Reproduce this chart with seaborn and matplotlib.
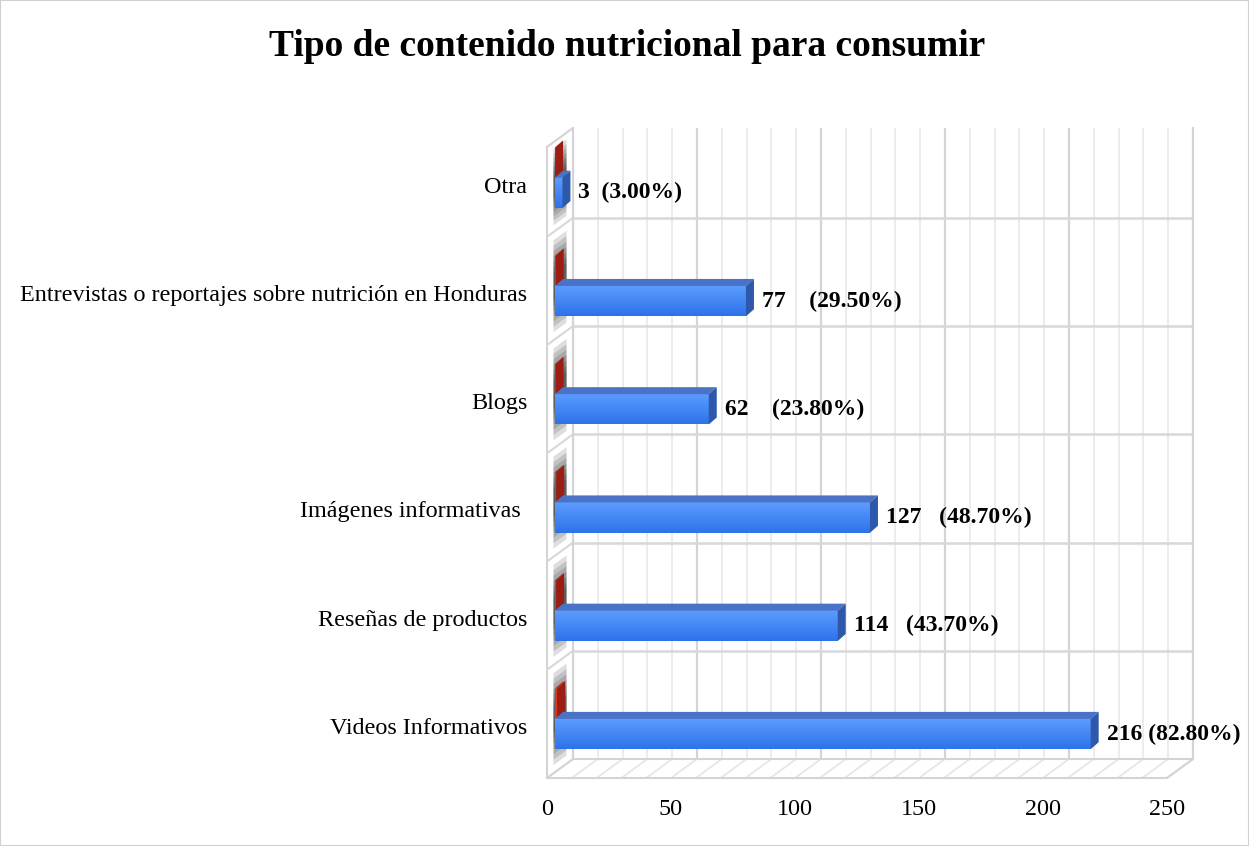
import numpy as np
import pandas as pd
import matplotlib
matplotlib.use('Agg')
import matplotlib.pyplot as plt
import matplotlib.transforms as mtransforms
from matplotlib.patches import Polygon, Rectangle
from matplotlib.lines import Line2D
from matplotlib.colors import LinearSegmentedColormap
import seaborn as sns

# datos
categorias = ['Otra', 'Entrevistas o reportajes sobre nutrición en Honduras', 'Blogs',
              'Imágenes informativas ', 'Reseñas de productos', 'Videos Informativos']
frecuencia = [3, 77, 62, 127, 114, 216]
proporcion = [0.03, 0.295, 0.238, 0.487, 0.437, 0.828]
etiquetas = ['3  (3.00%)', '77    (29.50%)', '62    (23.80%)',
             '127   (48.70%)', '114   (43.70%)', '216 (82.80%)']
x_ticks = [0, 50, 100, 150, 200, 250]
titulo = 'Tipo de contenido nutricional para consumir'

sns.set_theme(style='white')
plt.rcParams['font.family'] = ['Liberation Serif', 'DejaVu Serif']

df = pd.DataFrame({
    'categoria': categorias * 2,
    'valor': proporcion + frecuencia,
    'serie': ['Porcentaje'] * len(categorias) + ['Frecuencia'] * len(categorias),
})

W, H = 1249, 846
fig = plt.figure(figsize=(W / 100, H / 100), dpi=100)
ax = fig.add_axes([573 / W, 87 / H, 620 / W, 631 / H])

sns.barplot(data=df, y='categoria', x='valor', hue='serie',
            hue_order=['Porcentaje', 'Frecuencia'],
            palette={'Porcentaje': '#e0341f', 'Frecuencia': '#3c84f4'},
            orient='h', width=0.56, legend=False, errorbar=None,
            saturation=1, linewidth=0, ax=ax)

ax.set_xlim(0, 250)
ax.set_ylim(5.5, -0.33)
ax.set_xlabel('')
ax.set_ylabel('')
ax.set_xticks(x_ticks)
ax.set_xticks(range(0, 251, 10), minor=True)
ax.set_yticks(np.arange(0.5, len(categorias) - 1, 1.0), minor=True)
ax.grid(which='major', axis='x', color='#d4d4d4', lw=1.6)
ax.grid(which='minor', axis='x', color='#ebebeb', lw=1.3)
ax.grid(which='minor', axis='y', color='#d8d8d8', lw=1.8)
ax.set_axisbelow(True)
ax.tick_params(which='both', length=0)
ax.tick_params(axis='y', pad=33, labelsize=17.4, labelcolor='black')
ax.tick_params(axis='x', pad=15, labelsize=17.4, labelcolor='black')
for s in ['left', 'right', 'bottom']:
    ax.spines[s].set_color('#d4d4d4')
    ax.spines[s].set_linewidth(1.5)
ax.spines['top'].set_visible(False)


def off(dx, dy):
    return mtransforms.ScaledTranslation(dx / 100, dy / 100, fig.dpi_scale_trans)


def disp(x, y):
    return np.array(ax.transData.transform((x, y)))


ident = mtransforms.IdentityTransform()

# etiquetas de ejes desplazadas al plano frontal
for lbl in ax.get_yticklabels():
    lbl.set_transform(lbl.get_transform() + off(0, -21))
for lbl in ax.get_xticklabels():
    lbl.set_transform(lbl.get_transform() + off(-26, -19))

# piso y pared izquierda (efecto 3D)
D = np.array([-26, -19])
y_top, y_bot = -0.33, 5.5
BL, BR, TL = disp(0, y_bot), disp(250, y_bot), disp(0, y_top)
ax.add_artist(Polygon([BL, BR, BR + D, BL + D], closed=True, facecolor='white',
                      edgecolor='none', transform=ident, clip_on=False, zorder=0.5))
for v in range(0, 251, 10):
    p = disp(v, y_bot)
    ax.add_artist(Line2D([p[0], p[0] + D[0]], [p[1], p[1] + D[1]], color='#e6e6e6',
                         lw=1.3, transform=ident, clip_on=False, zorder=0.6))
for a, b in [(BL + D, BR + D), (BR, BR + D), (TL + D, BL + D), (TL, TL + D), (BL, BL + D)]:
    ax.add_artist(Line2D([a[0], b[0]], [a[1], b[1]], color='#d4d4d4', lw=1.5,
                         transform=ident, clip_on=False, zorder=0.7))
for yb in np.arange(0.5, len(categorias) - 1, 1.0):
    a = disp(0, yb)
    ax.add_artist(Line2D([a[0], a[0] + D[0]], [a[1], a[1] + D[1]], color='#d8d8d8',
                         lw=1.5, transform=ident, clip_on=False, zorder=0.7))

# sombra en la pared izquierda
for i in range(len(categorias)):
    t = max(i - 0.5, y_top)
    b = i + 0.5
    c = (t + b) / 2
    half = (b - t) / 2
    for k in range(7):
        hh = half * (0.85 - k * 0.1)
        pts = [disp(0, c - hh) + 0.25 * D, disp(0, c - hh) + 0.75 * D,
               disp(0, c + hh) + 0.75 * D, disp(0, c + hh) + 0.25 * D]
        ax.add_artist(Polygon(pts, closed=True, facecolor='black', alpha=0.13,
                              edgecolor='none', transform=ident, clip_on=False, zorder=0.8))

# barras con caras superior y lateral
F = (-18, -14)
d = np.array([8, 7])
caras = [('#b8281c', '#9c1d13', None),
         ('#4a72c6', '#2e58aa', ['#5d9dff', '#2d72ea'])]
for cont, (top_col, side_col, grad_cols) in zip(ax.containers, caras):
    for p in cont:
        x0, y0 = p.get_xy()
        w, h = p.get_width(), p.get_height()
        p.set_transform(ax.transData + off(*F))
        p.set_clip_on(False)
        p.set_zorder(3)
        l, tp = disp(x0, y0) + np.array(F)
        r, bt = disp(x0 + w, y0 + h) + np.array(F)
        ax.add_artist(Polygon([(l, tp), (r, tp), (r + d[0], tp + d[1]), (l + d[0], tp + d[1])],
                              closed=True, facecolor=top_col, edgecolor='none',
                              transform=ident, clip_on=False, zorder=3.1))
        ax.add_artist(Polygon([(r, bt), (r, tp), (r + d[0], tp + d[1]), (r + d[0], bt + d[1])],
                              closed=True, facecolor=side_col, edgecolor='none',
                              transform=ident, clip_on=False, zorder=3.1))
        if grad_cols is not None:
            cmap = LinearSegmentedColormap.from_list('g', grad_cols)
            im = ax.imshow(np.linspace(0, 1, 64).reshape(-1, 1),
                           extent=(x0, x0 + w, y0 + h, y0),
                           origin='upper', cmap=cmap, aspect='auto', interpolation='bilinear',
                           transform=ax.transData + off(*F), zorder=3.05)
            im.set_clip_on(False)

ax.set_xlim(0, 250)
ax.set_ylim(5.5, -0.33)

# etiquetas de datos
for i, (v, txt) in enumerate(zip(frecuencia, etiquetas)):
    ax.text(v, i + 0.14, txt, transform=ax.transData + off(F[0] + 16, F[1]),
            ha='left', va='center', fontsize=17, fontweight='bold', color='black',
            clip_on=False, zorder=4)

fig.text(627 / W, 1 - 47 / H, titulo, ha='center', va='center',
         fontsize=27, fontweight='bold', color='black')
fig.patches.append(Rectangle((0, 0), 1, 1, transform=fig.transFigure, fill=False,
                             edgecolor='#d0d0d0', lw=1.5))

fig.savefig('out.png', dpi=100)
